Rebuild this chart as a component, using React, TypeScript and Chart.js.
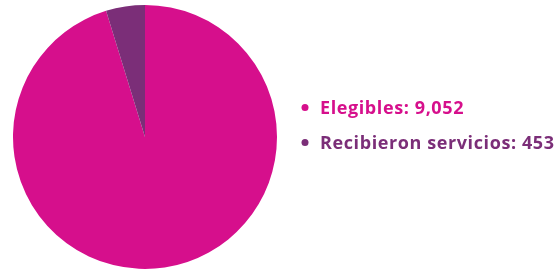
import React, { useEffect, useRef } from "react";
import { Chart, registerables } from "chart.js";

Chart.register(...registerables);

const categories = ["Elegibles", "Recibieron servicios"];
const values = [9052, 453];
const valueLabels = ["9,052", "453"];
const colors = ["#D60F8C", "#7B2E78"];

const legendPlugin = {
  id: "sideLegend",
  afterDraw(chart: any) {
    const ctx = chart.ctx;
    ctx.save();
    ctx.font = "bold 18px 'Open Sans'";
    (ctx as any).letterSpacing = "0.6px";
    ctx.textBaseline = "alphabetic";
    const ys = [114, 149];
    categories.forEach((c, i) => {
      ctx.fillStyle = colors[i];
      ctx.beginPath();
      ctx.arc(305, ys[i] - 6.5, 3.5, 0, Math.PI * 2);
      ctx.fill();
      ctx.fillText(`${c}: ${valueLabels[i]}`, 320, ys[i]);
    });
    ctx.restore();
  },
};

export default function App() {
  const ref = useRef<HTMLCanvasElement>(null);
  useEffect(() => {
    if (!ref.current) return;
    const chart = new Chart(ref.current, {
      type: "pie",
      data: {
        labels: categories,
        datasets: [
          {
            data: values,
            backgroundColor: colors,
            borderWidth: 0,
          },
        ],
      },
      options: {
        animation: false,
        responsive: false,
        maintainAspectRatio: false,
        layout: { padding: { left: 13, right: 277, top: 5, bottom: 2 } },
        plugins: {
          legend: { display: false },
          tooltip: { enabled: false },
        },
      },
      plugins: [legendPlugin],
    });
    return () => chart.destroy();
  }, []);
  return (
    <div style={{ position: "absolute", left: 0, top: 0, width: 554, height: 271, background: "#fff" }}>
      <canvas ref={ref} width={554} height={271} style={{ width: 554, height: 271 }} />
    </div>
  );
}
